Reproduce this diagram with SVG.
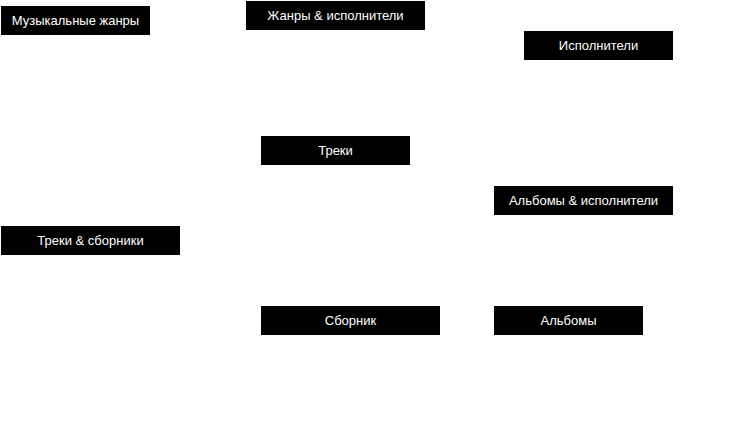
<svg xmlns="http://www.w3.org/2000/svg" width="731" height="427" viewBox="0 0 731 427">
<style>
.box{fill:#000;stroke:none}
.lbl{fill:#fff;font-family:"Liberation Sans",Arial,sans-serif;font-size:13px;text-anchor:middle}
</style>
<rect width="731" height="427" fill="#fff"/>
<g id="connectors"></g>
<g id="genres"><rect class="box" x="1" y="6" width="149" height="29"/><text class="lbl" x="75.5" y="24.5">Музыкальные жанры</text></g>
<g id="genres-artists"><rect class="box" x="246" y="1" width="179" height="29"/><text class="lbl" x="335.5" y="19.5">Жанры &amp; исполнители</text></g>
<g id="artists"><rect class="box" x="524" y="31" width="149" height="29"/><text class="lbl" x="598.5" y="49.5">Исполнители</text></g>
<g id="tracks"><rect class="box" x="261" y="136" width="149" height="29"/><text class="lbl" x="335.5" y="154.5">Треки</text></g>
<g id="albums-artists"><rect class="box" x="494" y="186" width="179" height="29"/><text class="lbl" x="583.5" y="204.5">Альбомы &amp; исполнители</text></g>
<g id="tracks-collections"><rect class="box" x="1" y="226" width="179" height="29"/><text class="lbl" x="90.5" y="244.5">Треки &amp; сборники</text></g>
<g id="collection"><rect class="box" x="261" y="306" width="179" height="29"/><text class="lbl" x="350.5" y="324.5">Сборник</text></g>
<g id="albums"><rect class="box" x="494" y="306" width="149" height="29"/><text class="lbl" x="568.5" y="324.5">Альбомы</text></g>
</svg>
